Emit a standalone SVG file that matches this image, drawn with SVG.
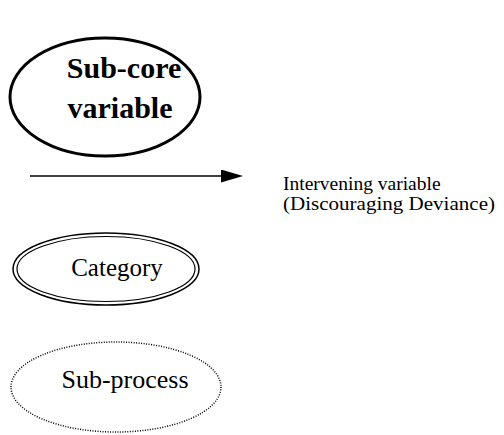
<svg xmlns="http://www.w3.org/2000/svg" width="504" height="435" viewBox="0 0 504 435">
<style>
text{font-family:"Liberation Serif","Times New Roman",serif;fill:#000}
.e{fill:none;stroke:#000}
</style>
<defs>
<marker id="ah" markerWidth="22" markerHeight="13" refX="0" refY="6.5" orient="auto" markerUnits="userSpaceOnUse">
<path d="M0,0 L22,6.5 L0,13 Z" fill="#000"/>
</marker>
</defs>
<rect width="504" height="435" fill="#fff"/>
<g id="subcore">
<ellipse class="e" cx="105" cy="97" rx="95" ry="59" stroke-width="3"/>
<text x="124" y="78" font-size="30" font-weight="bold" text-anchor="middle">Sub-core</text>
<text x="120" y="118" font-size="30" font-weight="bold" text-anchor="middle">variable</text>
</g>
<g id="connectors">
<line x1="30" y1="176" x2="221" y2="176" stroke="#000" stroke-width="1.5" marker-end="url(#ah)"/>
</g>
<g id="intervening">
<text x="283" y="190" font-size="19.5">Intervening variable</text>
<text x="283" y="210" font-size="19.5" textLength="212" lengthAdjust="spacingAndGlyphs">(Discouraging Deviance)</text>
</g>
<g id="category">
<ellipse class="e" cx="106" cy="269" rx="93" ry="36" stroke-width="1.5"/>
<ellipse class="e" cx="106" cy="269" rx="89" ry="32.5" stroke-width="1.2"/>
<text x="117" y="276" font-size="25" text-anchor="middle">Category</text>
</g>
<g id="subprocess">
<ellipse class="e" cx="116" cy="387" rx="105" ry="45" stroke-width="1.5" stroke-dasharray="1 1.5"/>
<text x="125" y="388" font-size="26" text-anchor="middle">Sub-process</text>
</g>
</svg>
